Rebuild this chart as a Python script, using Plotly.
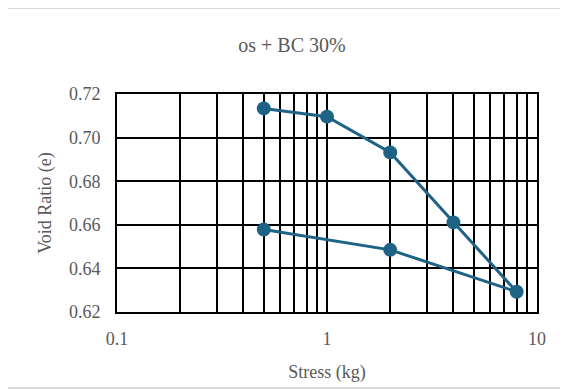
import plotly.graph_objects as go

stress = [0.5, 1, 2, 4, 8, 2, 0.5]
void_ratio = [0.7134, 0.7096, 0.6932, 0.6611, 0.6293, 0.6485, 0.6578]

x_grid_vals = [0.1, 0.2, 0.3, 0.4, 0.5, 0.6, 0.7, 0.8, 0.9,
               1, 2, 3, 4, 5, 6, 7, 8, 9, 10]
x_grid_text = ["0.1", "", "", "", "", "", "", "", "",
               "1", "", "", "", "", "", "", "", "", "10"]

title_text = "os + BC 30%"
x_title = "Stress (kg)"
y_title = "Void Ratio (e)"

color = "#1e6386"
text_color = "#595959"
font_family = "Liberation Serif, Times New Roman, serif"

fig = go.Figure()
fig.add_trace(go.Scatter(
    x=stress, y=void_ratio, mode="lines+markers",
    line=dict(color=color, width=3),
    marker=dict(color=color, size=14),
    showlegend=False,
))

fig.update_layout(
    width=568, height=390,
    margin=dict(l=109, r=39, t=86, b=86),
    paper_bgcolor="white", plot_bgcolor="white",
    font=dict(family=font_family, color=text_color, size=18),
    title=dict(text=title_text, x=0.5, xanchor="center", y=0.905, yanchor="middle",
               font=dict(size=20, color=text_color, family=font_family)),
    xaxis=dict(
        type="log", range=[-1, 1],
        tickmode="array", tickvals=x_grid_vals, ticktext=x_grid_text,
        showgrid=True, gridcolor="black", gridwidth=2,
        showline=True, linecolor="black", linewidth=2, mirror=True,
        ticks="", zeroline=False, ticklabelstandoff=9,
        title=dict(text=x_title, standoff=18, font=dict(size=18)),
        tickfont=dict(size=18),
    ),
    yaxis=dict(
        range=[0.62, 0.72], dtick=0.02, tick0=0.62, tickformat=".2f",
        showgrid=True, gridcolor="black", gridwidth=2,
        showline=True, linecolor="black", linewidth=2, mirror=True,
        ticks="", zeroline=False, ticklabelstandoff=11,
        title=dict(text=y_title, standoff=13, font=dict(size=18)),
        tickfont=dict(size=18),
    ),
)

# outer chart border (light gray)
fig.add_shape(type="rect", xref="paper", yref="paper",
              x0=-0.264, x1=1.08, y0=-0.349, y1=1.394,
              line=dict(color="#d9d9d9", width=2), fillcolor="rgba(0,0,0,0)",
              layer="below")

fig.write_html("out.html")
